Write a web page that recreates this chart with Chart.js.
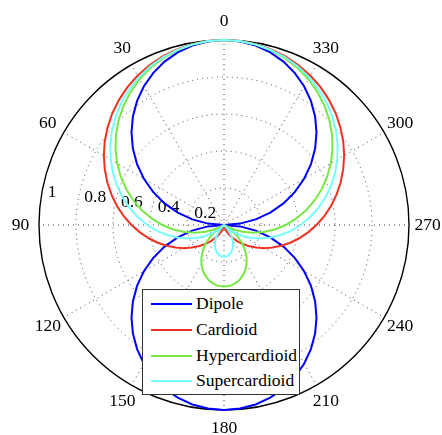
<!DOCTYPE html>
<html>
<head>
<meta charset="utf-8">
<script src="https://cdn.jsdelivr.net/npm/chart.js@4.4.1/dist/chart.umd.min.js"></script>
<style>
  html, body { margin: 0; padding: 0; background: #fff; }
  #wrap { position: relative; width: 442px; height: 435px; }
  #c { position: absolute; left: 0; top: 0; }
  #legend { position: absolute; left: 142px; top: 289px; width: 158px; height: 106px;
            border: 1px solid #333; background: #fff; box-sizing: border-box;
            font-family: "Liberation Serif", "Times New Roman", serif; font-size: 17.5px; color: #000; }
  .ln { position: absolute; left: 8px; width: 41px; height: 2px; }
  .tx { position: absolute; left: 53px; line-height: 20px; white-space: nowrap; }
</style>
</head>
<body>
<div id="wrap">
  <canvas id="c" width="442" height="435"></canvas>
  <div id="legend"></div>
</div>
<script>
// Angles (degrees) at which each pattern is sampled
const ANGLES = [0,5,10,15,20,25,30,35,40,45,50,55,60,65,70,75,80,85,90,95,100,105,110,115,120,125,130,135,140,145,150,155,160,165,170,175,180,185,190,195,200,205,210,215,220,225,230,235,240,245,250,255,260,265,270,275,280,285,290,295,300,305,310,315,320,325,330,335,340,345,350,355];

const DIPOLE = [1,.996,.985,.966,.940,.906,.866,.819,.766,.707,.643,.574,.500,.423,.342,.259,.174,.087,0,.087,.174,.259,.342,.423,.500,.574,.643,.707,.766,.819,.866,.906,.940,.966,.985,.996,1,
  .996,.985,.966,.940,.906,.866,.819,.766,.707,.643,.574,.500,.423,.342,.259,.174,.087,0,.087,.174,.259,.342,.423,.500,.574,.643,.707,.766,.819,.866,.906,.940,.966,.985,.996];

const CARDIOID = [1,.998,.992,.983,.970,.953,.933,.910,.883,.854,.821,.787,.750,.711,.671,.629,.587,.544,.500,.456,.413,.371,.329,.289,.250,.213,.179,.146,.117,.090,.067,.047,.030,.017,.008,.002,0,
  .002,.008,.017,.030,.047,.067,.090,.117,.146,.179,.213,.250,.289,.329,.371,.413,.456,.500,.544,.587,.629,.671,.711,.750,.787,.821,.854,.883,.910,.933,.953,.970,.983,.992,.998];

const HYPERCARDIOID = [1,.997,.990,.977,.960,.938,.911,.879,.844,.805,.762,.716,.667,.615,.561,.506,.449,.391,.333,.275,.218,.161,.105,.052,0,.049,.095,.138,.177,.213,.244,.271,.293,.311,.323,.331,.333,
  .331,.323,.311,.293,.271,.244,.213,.177,.138,.095,.049,0,.052,.105,.161,.218,.275,.333,.391,.449,.506,.561,.615,.667,.716,.762,.805,.844,.879,.911,.938,.960,.977,.990,.997];

const SUPERCARDIOID = [1,.998,.991,.980,.965,.945,.921,.894,.863,.828,.791,.750,.707,.662,.614,.566,.516,.465,.414,.363,.312,.262,.214,.166,.121,.078,.037,0,.035,.066,.094,.117,.137,.152,.163,.170,.172,
  .170,.163,.152,.137,.117,.094,.066,.035,0,.037,.078,.121,.166,.214,.262,.312,.363,.414,.465,.516,.566,.614,.662,.707,.750,.791,.828,.863,.894,.921,.945,.965,.980,.991,.998];

const SERIES_NAMES = ['Dipole','Cardioid','Hypercardioid','Supercardioid'];
const SERIES_COLORS = ['#0000ff','#ee3322','#77e844','#77ffff'];
const ANGLE_TICKS = [0,30,60,90,120,150,180,210,240,270,300,330];
const RADIAL_TICKS = [0.2,0.4,0.6,0.8,1];

// Radar runs clockwise; the reference runs counter-clockwise, so reverse the order.
const n = ANGLES.length;
const idx = k => (n - k) % n;
const labels = ANGLES.map((_, k) => ANGLES[idx(k)]);
const reorder = vals => ANGLES.map((_, k) => vals[idx(k)]);
const seriesVals = [DIPOLE, CARDIOID, HYPERCARDIOID, SUPERCARDIOID];

const FONT = '17.5px "Liberation Serif", "Times New Roman", serif';

const labelPlugin = {
  id: 'polarLabels',
  beforeDatasetsDraw(chart) {
    const s = chart.scales.r, ctx = chart.ctx;
    ctx.save();
    ctx.font = FONT;
    ctx.fillStyle = '#000';
    ctx.textAlign = 'center';
    ctx.textBaseline = 'middle';
    ANGLE_TICKS.forEach(a => {
      const i = labels.indexOf(a);
      const p = s.getPointPosition(i, s.drawingArea * 1.1);
      ctx.fillText(String(a), p.x, p.y);
    });
    ctx.textAlign = 'left';
    ctx.textBaseline = 'alphabetic';
    const sp = ctx.measureText('  ').width;
    const ang = 8 * Math.PI / 180;
    RADIAL_TICKS.forEach(v => {
      const d = s.getDistanceFromCenterForValue(v + 0.01);
      ctx.fillText(String(v), s.xCenter - d * Math.cos(ang) + sp, s.yCenter - d * Math.sin(ang) - 2);
    });
    ctx.restore();
  }
};

const isOuter = c => c.tick && c.tick.value >= 0.999;

new Chart(document.getElementById('c'), {
  type: 'radar',
  data: {
    labels,
    datasets: SERIES_NAMES.map((name, j) => ({
      label: name,
      data: reorder(seriesVals[j]),
      borderColor: SERIES_COLORS[j],
      backgroundColor: SERIES_COLORS[j],
      borderWidth: 2,
      fill: false,
      pointRadius: 0,
      order: 4 - j
    }))
  },
  options: {
    responsive: false,
    animation: false,
    layout: { padding: { left: 39, right: 33, top: 40, bottom: 25 } },
    plugins: { legend: { display: false }, tooltip: { enabled: false } },
    elements: { line: { tension: 0 } },
    scales: {
      r: {
        min: 0, max: 1,
        ticks: { display: false, stepSize: 0.2 },
        pointLabels: { display: false },
        grid: {
          circular: true,
          color: c => isOuter(c) ? '#000' : '#444',
          lineWidth: c => isOuter(c) ? 1.4 : 1
        },
        border: { dash: c => isOuter(c) ? [] : [1, 4] },
        angleLines: {
          color: '#444',
          borderDash: [1, 4],
          lineWidth: c => (labels[c.index] % 30 === 0) ? 1 : 0
        }
      }
    }
  },
  plugins: [labelPlugin]
});

// Legend (inside the plot, bottom centre)
const lg = document.getElementById('legend');
const rowY = [14.3, 40, 65.7, 91];
SERIES_NAMES.forEach((name, j) => {
  const l = document.createElement('div');
  l.className = 'ln';
  l.style.top = (rowY[j] - 1) + 'px';
  l.style.background = SERIES_COLORS[j];
  lg.appendChild(l);
  const t = document.createElement('div');
  t.className = 'tx';
  t.style.top = (rowY[j] - 11) + 'px';
  t.textContent = name;
  lg.appendChild(t);
});
</script>
</body>
</html>
